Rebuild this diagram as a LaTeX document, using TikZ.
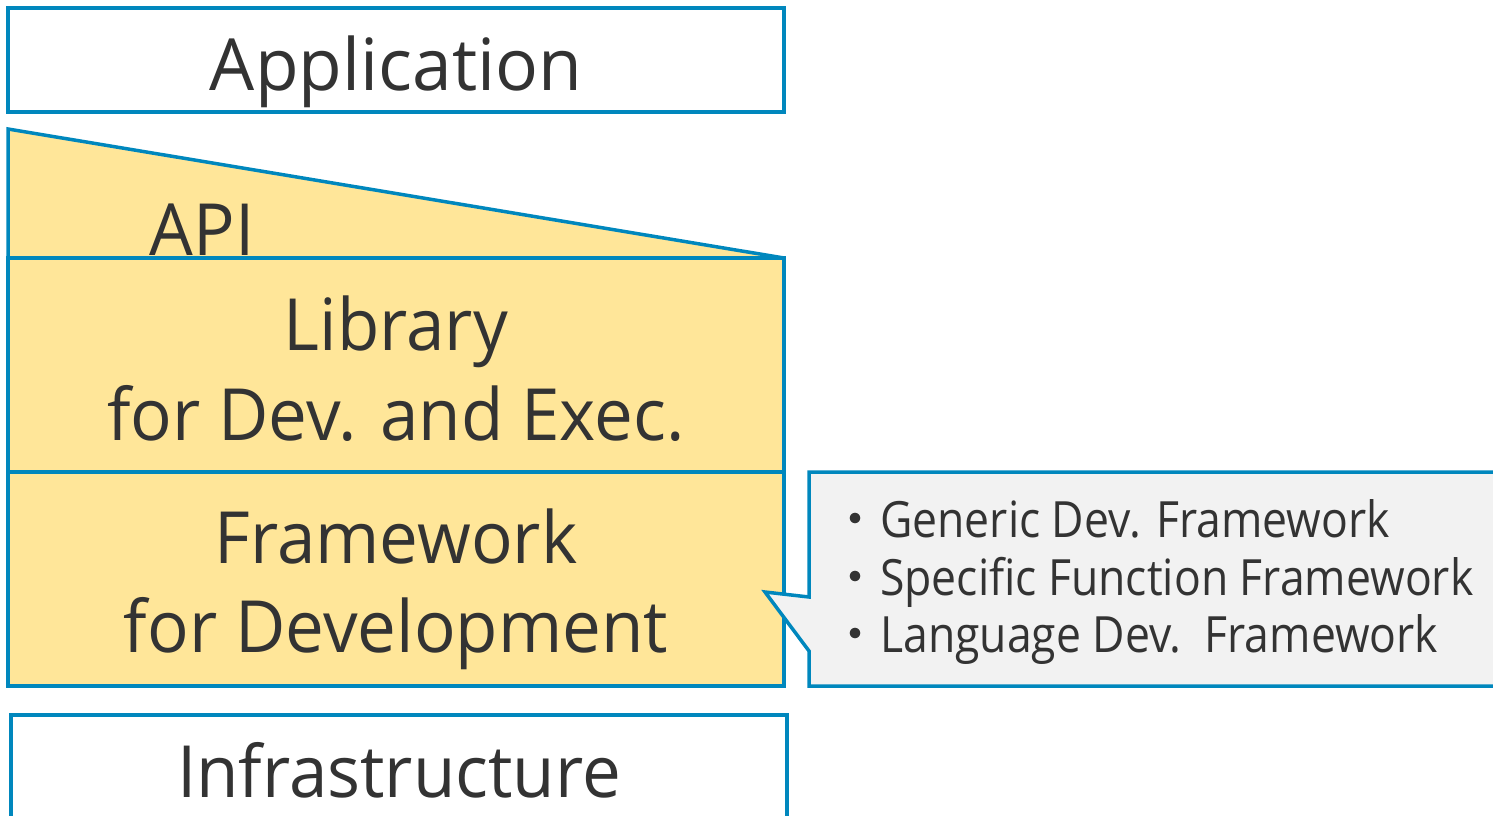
\documentclass[tikz,border=0pt]{standalone}
\usepackage{fontspec}
\setmainfont{Open Sans}
\newfontfamily\bigf{Open Sans}[FakeStretch=0.96]
\newfontfamily\appf{Open Sans}[FakeStretch=0.99]
\newfontfamily\smf{Open Sans}[FakeStretch=0.89]
\newfontfamily\cjk{Noto Sans CJK JP}
\definecolor{edge}{RGB}{0,135,189}
\definecolor{fillY}{RGB}{255,230,153}
\definecolor{fillG}{RGB}{242,242,242}
\definecolor{txt}{RGB}{51,51,51}
\tikzset{
  layer/.style={draw=edge, line width=3.5pt, inner sep=0pt, outer sep=0pt, minimum width=776pt},
  big/.style={text=txt, font=\bigf\fontsize{72}{86}\selectfont, anchor=base},
  small/.style={text=txt, font=\smf\fontsize{50}{60}\selectfont, anchor=base west, inner sep=0pt},
}
\begin{document}
\begin{tikzpicture}[x=1pt,y=-1pt]
\useasboundingbox (0,0) rectangle (1493,815);
\begin{scope}
\clip (0,0) rectangle (1493,815);
% Application
\node[layer, fill=white, minimum height=104pt] (app) at (396,60) {};
% API trapezoid
\draw[draw=edge, fill=fillY, line width=3.5pt, line join=miter] (8,129) -- (784,258) -- (8,258) -- cycle;
% Library
\node[layer, fill=fillY, minimum height=214pt] (lib) at (396,365) {};
% Framework
\node[layer, fill=fillY, minimum height=214pt] (fw) at (396,579) {};
% Infrastructure
\node[layer, fill=white, minimum height=120pt] (infra) at (399,775) {};
% Callout
\draw[draw=edge, fill=fillG, line width=3.5pt, line join=miter]
  (809,472) -- (1510,472) -- (1510,686) -- (809,686) -- (809,651) -- (765,592) -- (809,597) -- cycle;
\end{scope}
% Texts
\node[big, font=\appf\fontsize{72}{86}\selectfont] (tapp) at (396,90) {Application};
\node[big] (tapi) at (202,255) {API};
\node[big] (tlib1) at (396,350) {Library};
\node[big] (tlib2) at (396,440) {for Dev. and Exec.};
\node[big] (tfw1) at (396,563) {Framework};
\node[big] (tfw2) at (396,652) {for Development};
\node[big] (tinfra) at (399,797) {Infrastructure};
\node[small] (c1) at (830,537) {{\cjk ・}Generic Dev. Framework};
\node[small] (c2) at (830,595) {{\cjk ・}Specific Function Framework};
\node[small] (c3) at (830,652) {{\cjk ・}Language Dev.\ \ Framework};
\end{tikzpicture}
\end{document}
